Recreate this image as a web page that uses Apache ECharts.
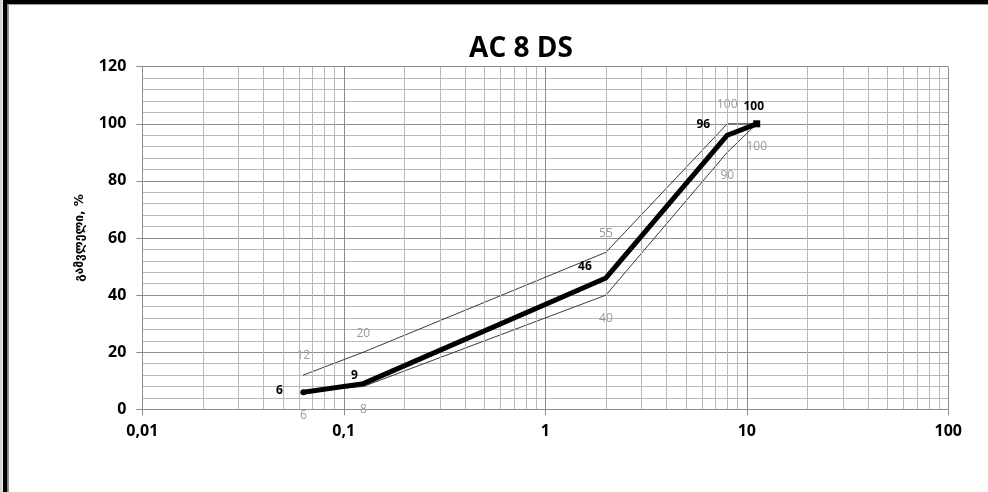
<!DOCTYPE html>
<html>
<head>
<meta charset="utf-8">
<script src="https://cdn.jsdelivr.net/npm/echarts@6/dist/echarts.min.js"></script>
<style>
  html, body { margin: 0; padding: 0; background: #fff; }
  #chart { width: 988px; height: 492px; }
</style>
</head>
<body>
<div id="chart"></div>
<script>
// ---- data ----
const titleText = 'AC 8 DS';
const yAxisName = 'გამვლელი, %';
const sieves = [0.063, 0.125, 2, 8, 11.2];
const passing = [6, 9, 46, 96, 100];
const upperLimit = [12, 20, 55, 100, 100];
const lowerLimit = [6, 8, 40, 90, 100];
const xTicks = [0.01, 0.1, 1, 10, 100];
const yMin = 0, yMax = 120, yStep = 20;

// ---- presentation ----
const mainLabelOffsets = [[-24, -2], [-9, -8], [-21, -11], [-24, -11], [-3, -17]];
const mainSymbols = ['circle', 'circle', 'circle', 'circle', 'rect'];
const mainSymbolSizes = [6, 1, 1, 1, 7];
const upperLabelShow = [true, true, true, true, false];

// minor log grid positions (2..9 within each decade)
const minorX = [];
for (let i = 0; i < xTicks.length - 1; i++) {
  for (let k = 2; k <= 9; k++) minorX.push(+(xTicks[i] * k).toPrecision(3));
}

const fontMain = "'Open Sans', 'DejaVu Sans', sans-serif";

const chart = echarts.init(document.getElementById('chart'), null, { renderer: 'canvas' });

const mainData = sieves.map((x, i) => ({
  value: [x, passing[i]],
  symbol: mainSymbols[i],
  symbolSize: mainSymbolSizes[i],
  label: { offset: mainLabelOffsets[i] }
}));
const upperData = sieves.map((x, i) => ({
  value: [x, upperLimit[i]],
  label: { show: upperLabelShow[i] }
}));
const lowerData = sieves.map((x, i) => ({ value: [x, lowerLimit[i]] }));

chart.setOption({
  animation: false,
  backgroundColor: '#fff',
  title: {
    text: titleText,
    left: 516,
    textAlign: 'center',
    top: 30,
    textStyle: { fontFamily: fontMain, fontWeight: 'bold', fontSize: 28, color: '#000' }
  },
  grid: { left: 142.3, right: 39.7, top: 66.7, bottom: 82.7, containLabel: false },
  xAxis: {
    type: 'log',
    logBase: 10,
    min: xTicks[0],
    max: xTicks[xTicks.length - 1],
    axisLine: { show: true, lineStyle: { color: '#8c8c8c', width: 1 } },
    axisTick: { show: true, length: 6, lineStyle: { color: '#8c8c8c' } },
    axisLabel: {
      margin: 14,
      fontFamily: fontMain, fontWeight: 'bold', fontSize: 16, color: '#000',
      formatter: v => String(v).replace('.', ',')
    },
    splitLine: { show: true, lineStyle: { color: '#8c8c8c', width: 1 } }
  },
  yAxis: {
    type: 'value',
    min: yMin, max: yMax, interval: yStep,
    name: yAxisName,
    nameLocation: 'middle',
    nameGap: 56,
    nameTextStyle: { fontFamily: "'DejaVu Sans', sans-serif", fontWeight: 'bold', fontSize: 12, color: '#000' },
    axisLine: { show: true, lineStyle: { color: '#8c8c8c', width: 1 } },
    axisTick: { show: true, length: 6, lineStyle: { color: '#8c8c8c' } },
    axisLabel: { margin: 16, fontFamily: fontMain, fontWeight: 'bold', fontSize: 16, color: '#000' },
    splitLine: { show: true, lineStyle: { color: '#8c8c8c', width: 1 } },
    minorTick: { show: false, splitNumber: 5 },
    minorSplitLine: { show: true, lineStyle: { color: '#b8b8b8', width: 1 } }
  },
  series: [
    {
      name: 'grid-minor',
      type: 'line',
      data: [],
      z: 1,
      silent: true,
      markLine: {
        silent: true,
        symbol: ['none', 'none'],
        label: { show: false },
        emphasis: { disabled: true },
        lineStyle: { color: '#b8b8b8', type: 'solid', width: 1 },
        data: minorX.map(v => ({ xAxis: v }))
      }
    },
    {
      name: 'upper',
      type: 'line',
      data: upperData,
      z: 3,
      symbol: 'circle', symbolSize: 1,
      itemStyle: { color: '#3a3a3a' },
      lineStyle: { color: '#3a3a3a', width: 1 },
      label: {
        show: true, position: 'inside', offset: [0, -19],
        fontFamily: fontMain, fontSize: 12, color: '#9a9a9a',
        formatter: p => String(p.value[1])
      }
    },
    {
      name: 'lower',
      type: 'line',
      data: lowerData,
      z: 3,
      symbol: 'circle', symbolSize: 1,
      itemStyle: { color: '#3a3a3a' },
      lineStyle: { color: '#3a3a3a', width: 1 },
      label: {
        show: true, position: 'inside', offset: [0, 23],
        fontFamily: fontMain, fontSize: 12, color: '#9a9a9a',
        formatter: p => String(p.value[1])
      }
    },
    {
      name: 'main',
      type: 'line',
      data: mainData,
      z: 5,
      itemStyle: { color: '#000' },
      lineStyle: { color: '#000', width: 5 },
      label: {
        show: true, position: 'inside',
        fontFamily: fontMain, fontWeight: 'bold', fontSize: 12, color: '#000',
        formatter: p => String(p.value[1])
      }
    }
  ],
  graphic: [
    { type: 'rect', shape: { x: 0, y: 0, width: 2.5, height: 492 }, style: { fill: '#d4d4d4' }, silent: true },
    { type: 'rect', shape: { x: 3, y: 0, width: 4.5, height: 492 }, style: { fill: '#000' }, silent: true },
    { type: 'rect', shape: { x: 3, y: 0, width: 985, height: 4 }, style: { fill: '#000' }, silent: true },
    { type: 'line', shape: { x1: 8.5, y1: 4, x2: 8.5, y2: 492 }, style: { stroke: '#9a9a9a', lineWidth: 1 }, silent: true },
    { type: 'line', shape: { x1: 8, y1: 4.5, x2: 988, y2: 4.5 }, style: { stroke: '#9a9a9a', lineWidth: 1 }, silent: true }
  ]
});
</script>
</body>
</html>
